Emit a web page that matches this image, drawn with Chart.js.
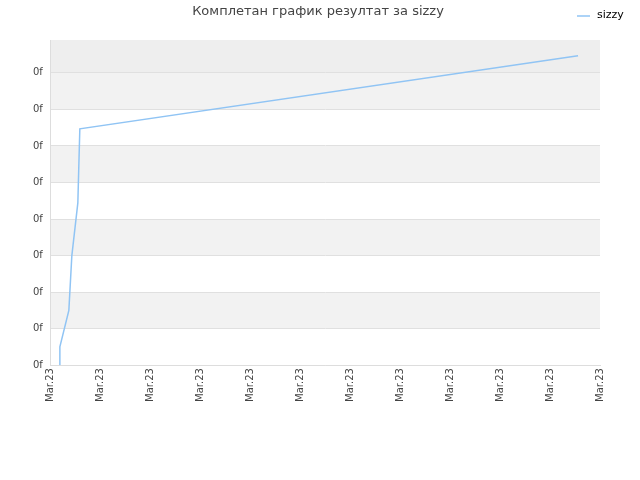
<!DOCTYPE html><html><head><meta charset="utf-8">
<script src="https://cdn.jsdelivr.net/npm/chart.js@4"></script>
<style>body{margin:0;background:#fff}#w{width:640px;height:480px}</style></head><body>
<div id="w"><canvas id="c"></canvas></div>
<script>
const titleText = "Комплетан график резултат за sizzy";
const seriesName = "sizzy";
const xValues = [0.18, 0.18, 0.36, 0.42, 0.54, 0.56, 0.58, 10.56];
const yValues = [0, 0.5, 1.5, 3, 4.44, 5.47, 6.47, 8.47];
const xTickLabel = "Mar.23";
const yTickLabel = "0f";

const bands = {
  id: 'bands',
  beforeDraw(chart) {
    const {ctx, chartArea: a, scales: {y}} = chart;
    ctx.save();
    const max = y.max;
    for (let i = 0; i < Math.ceil(max); i++) {
      const top = y.getPixelForValue(Math.min(i + 1, max)), bot = y.getPixelForValue(i);
      let col = i % 2 === 1 ? '#f2f2f2' : '#ffffff';
      if (i + 1 > max) col = '#eeeeee';
      ctx.fillStyle = col;
      ctx.fillRect(a.left, top, a.right - a.left, bot - top);
    }
    ctx.restore();
  },
  afterDraw(chart) {
    const {ctx} = chart;
    ctx.save();
    ctx.font = '13px "DejaVu Sans", sans-serif';
    ctx.fillStyle = '#444';
    ctx.textAlign = 'center'; ctx.textBaseline = 'middle';
    ctx.fillText(titleText, 318, 12);
    ctx.strokeStyle = '#90c4f4'; ctx.lineWidth = 1.5;
    ctx.beginPath(); ctx.moveTo(577, 16); ctx.lineTo(590, 16); ctx.stroke();
    ctx.font = '11px "DejaVu Sans", sans-serif';
    ctx.fillStyle = '#000'; ctx.textAlign = 'left';
    ctx.fillText(seriesName, 597, 15);
    ctx.restore();
  }
};

new Chart(document.getElementById('c'), {
  type: 'line',
  data: { datasets: [{ label: seriesName, data: xValues.map((x, i) => ({x, y: yValues[i]})),
    borderColor: '#90c4f4', borderWidth: 1.5, pointRadius: 0, tension: 0, fill: false }] },
  options: {
    responsive: true, maintainAspectRatio: false, animation: false,
    layout: { padding: { top: 40, right: 40, left: 25, bottom: 75 } },
    plugins: { legend: { display: false }, title: { display: false }, tooltip: { enabled: false } },
    scales: {
      x: { type: 'linear', min: 0, max: 11,
        ticks: { stepSize: 1, autoSkip: false, maxRotation: 90, minRotation: 90, color: '#444',
          font: { size: 10, family: 'DejaVu Sans' }, callback: () => xTickLabel },
        grid: { display: false, drawTicks: false }, border: { color: '#ddd' } },
      y: { min: 0, max: 8.9, afterBuildTicks: s => { s.ticks = [0,1,2,3,4,5,6,7,8].map(v => ({value: v})); },
        ticks: { color: '#444', font: { size: 10, family: 'DejaVu Sans' }, callback: () => yTickLabel, padding: 8 },
        grid: { color: '#e0e0e0', drawTicks: false }, border: { color: '#ddd' } }
    }
  },
  plugins: [bands]
});
</script></body></html>
